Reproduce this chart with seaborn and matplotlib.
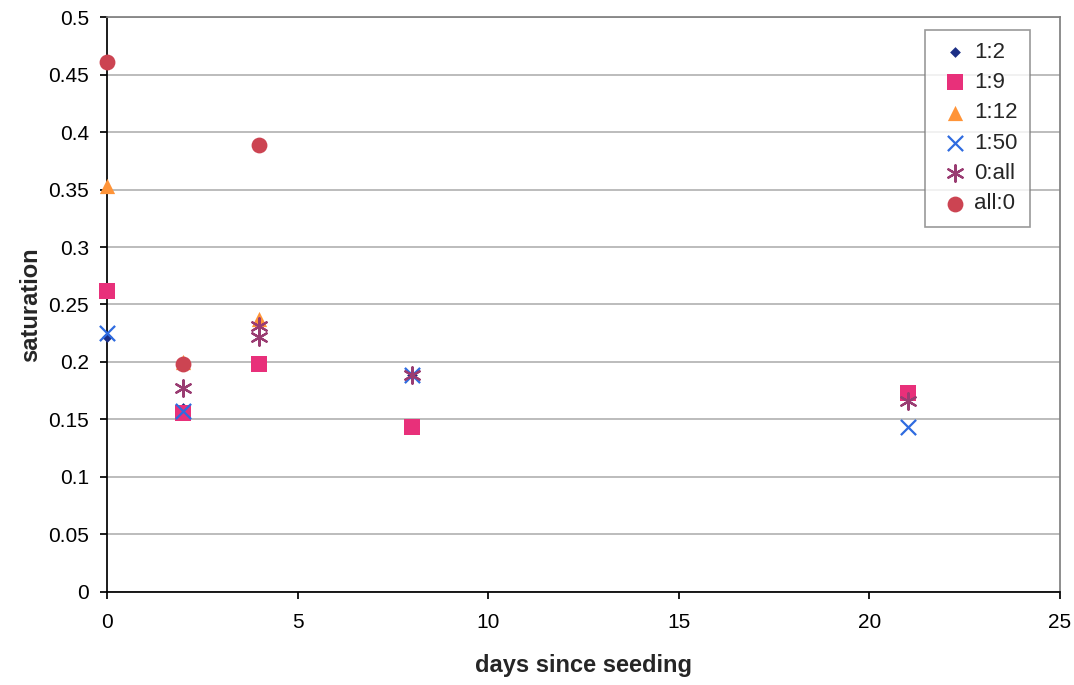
import pandas as pd
import seaborn as sns
import matplotlib.pyplot as plt
from matplotlib.ticker import FuncFormatter

sns.set_theme(style="white")
plt.rcParams['font.family'] = ['Liberation Sans', 'DejaVu Sans']

# Data
series = ["1:2", "1:9", "1:12", "1:50", "0:all", "all:0"]
days_1_2 = [0, 2, 8]
sat_1_2 = [0.222, 0.160, 0.189]
days_1_9 = [0, 2, 4, 8, 21]
sat_1_9 = [0.262, 0.156, 0.198, 0.143, 0.173]
days_1_12 = [0, 2, 4]
sat_1_12 = [0.353, 0.200, 0.237]
days_1_50 = [0, 2, 8, 21]
sat_1_50 = [0.225, 0.157, 0.189, 0.143]
days_0_all = [2, 4, 4, 8, 21]
sat_0_all = [0.177, 0.231, 0.222, 0.189, 0.166]
days_all_0 = [0, 2, 4]
sat_all_0 = [0.461, 0.198, 0.389]

rows = []
for name, d, s in [("1:2", days_1_2, sat_1_2), ("1:9", days_1_9, sat_1_9),
                   ("1:12", days_1_12, sat_1_12), ("1:50", days_1_50, sat_1_50),
                   ("0:all", days_0_all, sat_0_all), ("all:0", days_all_0, sat_all_0)]:
    for x, y in zip(d, s):
        rows.append({"series": name, "days": x, "saturation": y})
df = pd.DataFrame(rows)

palette = {"1:2": "#1c2f86", "1:9": "#e8307a", "1:12": "#ff9438",
           "1:50": "#2f6be0", "0:all": "#9a3c72", "all:0": "#cc4452"}
markers = {"1:2": "D", "1:9": "s", "1:12": "^", "1:50": "x",
           "0:all": (6, 2, 0), "all:0": "o"}
sizes = {"1:2": 30, "1:9": 120, "1:12": 120, "1:50": 120, "0:all": 140, "all:0": 130}

fig, ax = plt.subplots(figsize=(10.74, 6.85), dpi=100)
fig.subplots_adjust(left=0.0996, right=0.987, top=0.975, bottom=0.136)

for name in series:
    sub = df[df["series"] == name]
    sns.scatterplot(data=sub, x="days", y="saturation", color=palette[name],
                    marker=markers[name], s=sizes[name],
                    linewidth=1.6 if name in ("1:50", "0:all") else 0,
                    label=name, ax=ax, zorder=3, clip_on=False)

ax.set_xlim(0, 25)
ax.set_ylim(0, 0.5)
ax.set_xticks([0, 5, 10, 15, 20, 25])
ax.set_yticks([i * 0.05 for i in range(11)])
ax.yaxis.set_major_formatter(FuncFormatter(lambda v, p: f"{v:.2f}".rstrip("0").rstrip(".") if v else "0"))
ax.yaxis.grid(True, color="#b0b0b0", linewidth=1.2)
ax.set_axisbelow(True)

for side in ["top", "right"]:
    ax.spines[side].set_color("#808080")
for side in ["left", "bottom"]:
    ax.spines[side].set_color("black")
ax.tick_params(axis="both", labelsize=15, colors="black", length=5, direction="out",
               left=True, bottom=True)
ax.tick_params(axis="x", pad=10)
ax.tick_params(axis="y", pad=8)

ax.set_xlabel("days since seeding", fontsize=17, fontweight="bold", labelpad=16)
ax.set_ylabel("saturation", fontsize=17, fontweight="bold", labelpad=4)

leg = ax.legend(loc="upper right", bbox_to_anchor=(0.975, 0.99), fontsize=16,
                frameon=True, fancybox=False, edgecolor="#808080",
                borderpad=0.55, labelspacing=0.42, handletextpad=0.05, handlelength=1.6,
                borderaxespad=0.3)
leg.get_frame().set_linewidth(1.2)

fig.savefig("out.png", dpi=100)
